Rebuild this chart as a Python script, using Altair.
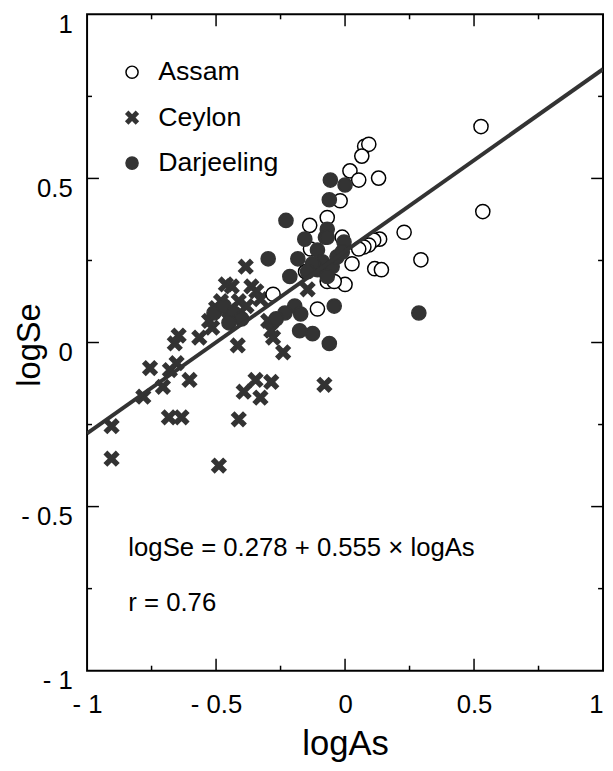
import altair as alt
import pandas as pd

# ---- data ----
ceylon_x = [-0.905, -0.905, -0.782, -0.756, -0.706, -0.683, -0.634, -0.679, -0.653, -0.660,
            -0.645, -0.603, -0.565, -0.489, -0.500, -0.515, -0.462, -0.439, -0.363, -0.385,
            -0.416, -0.347, -0.286, -0.328, -0.393, -0.412, -0.240, -0.279, -0.298, -0.145,
            -0.080, -0.286, -0.527, -0.481, -0.412, -0.382, -0.344, -0.328, -0.450]
ceylon_y = [-0.255, -0.354, -0.165, -0.078, -0.135, -0.228, -0.228, -0.084, -0.063, -0.003,
            0.021, -0.114, 0.015, -0.375, 0.105, 0.045, 0.177, 0.171, 0.171, 0.231,
            -0.009, -0.114, -0.120, -0.168, -0.150, -0.234, -0.030, 0.015, 0.066, 0.162,
            -0.129, 0.036, 0.066, 0.126, 0.126, 0.111, 0.156, 0.132, 0.096]

assam_x = [0.076, 0.092, 0.065, 0.019, 0.053, 0.130, -0.019, -0.069, -0.137, 0.229,
           0.134, 0.111, 0.092, 0.073, 0.053, 0.115, 0.141, 0.000, 0.027, -0.011,
           -0.069, -0.279, 0.527, 0.534, 0.294, -0.107, -0.153, -0.134, -0.042]
assam_y = [0.598, 0.604, 0.568, 0.523, 0.495, 0.501, 0.432, 0.381, 0.357, 0.336,
           0.315, 0.312, 0.297, 0.291, 0.285, 0.225, 0.222, 0.177, 0.240, 0.321,
           0.186, 0.147, 0.658, 0.399, 0.252, 0.102, 0.216, 0.285, 0.186]

darj_x = [-0.298, -0.156, -0.076, -0.183, -0.214, -0.057, 0.000, -0.061, -0.229, -0.069,
          -0.069, -0.004, -0.107, -0.088, -0.050, -0.031, -0.107, -0.011, -0.069, -0.126,
          -0.195, -0.172, -0.126, -0.176, -0.233, -0.267, -0.061, -0.042, 0.286, -0.508,
          -0.469, -0.431, -0.401, -0.450, -0.145]
darj_y = [0.255, 0.315, 0.321, 0.255, 0.201, 0.495, 0.480, 0.435, 0.372, 0.345,
          0.321, 0.306, 0.282, 0.246, 0.231, 0.261, 0.222, 0.276, 0.201, 0.240,
          0.111, 0.087, 0.027, 0.036, 0.090, 0.072, -0.003, 0.111, 0.090, 0.090,
          0.111, 0.090, 0.072, 0.060, 0.216]

varieties = ["Assam", "Ceylon", "Darjeeling"]
intercept, slope = 0.278, 0.555
line_x = [-1.0, 1.0]

major_ticks = [-0.5, 0.0, 0.5]
minor_ticks = [-0.75, -0.25, 0.25, 0.75]
axis_values = [-1, -0.5, 0, 0.5, 1]

note_text = ["logSe = 0.278 + 0.555 \u00d7 logAs", "r = 0.76"]
note_x = [-0.84, -0.84]
note_y = [-0.627, -0.795]

# ---- tables ----
rows = []
for order, (name, xs_, ys_) in enumerate([("Ceylon", ceylon_x, ceylon_y),
                                          ("Assam", assam_x, assam_y),
                                          ("Darjeeling", darj_x, darj_y)]):
    for a, b in zip(xs_, ys_):
        rows.append({"variety": name, "logAs": a, "logSe": b, "ord": order})
df = pd.DataFrame(rows)
line_df = pd.DataFrame({"lx": line_x, "ly": [intercept + slope * v for v in line_x]})
major_df = pd.DataFrame({"v": major_ticks})
minor_df = pd.DataFrame({"v": minor_ticks})
note_df = pd.DataFrame({"nx": note_x, "ny": note_y, "t": note_text})

W, H = 522, 664
FONT = "Liberation Sans"
INK = "#333333"
xs = alt.Scale(domain=[-1, 1], nice=False, zero=False)
ys = alt.Scale(domain=[-1, 1], nice=False, zero=False)

X_PATH = "M-1,-0.6L-0.6,-1L0,-0.4L0.6,-1L1,-0.6L0.4,0L1,0.6L0.6,1L0,0.4L-0.6,1L-1,0.6L-0.4,0Z"
label_expr = "datum.value < 0 ? '- ' + abs(datum.value) : '' + datum.value"

leg = alt.Legend(title=None, orient="none", legendX=32, legendY=45,
                 labelFont=FONT, labelFontSize=27, labelColor="black",
                 symbolSize=150, symbolStrokeWidth=1.5, rowPadding=18,
                 labelOffset=13, padding=0)

x_axis = alt.Axis(values=axis_values, ticks=False, domain=False, grid=False,
                  labelExpr=label_expr, labelFont=FONT, labelFontSize=26,
                  labelColor="black", labelPadding=21, labelFlush=False,
                  labelAlign={"condition": {"test": "datum.value == 1", "value": "right"},
                              "value": "center"},
                  title="logAs", titleFont=FONT, titleFontSize=35,
                  titleFontWeight="normal", titleColor="black",
                  titleX=W / 2, titleY=85, titleBaseline="alphabetic")
y_axis = alt.Axis(values=axis_values, ticks=False, domain=False, grid=False,
                  labelExpr=label_expr, labelFont=FONT, labelFontSize=26,
                  labelColor="black", labelPadding=15, labelFlush=False,
                  labelOffset=10,
                  title="logSe", titleFont=FONT, titleFontSize=33,
                  titleFontWeight="normal", titleColor="black",
                  titleX=-48, titleY=334, titleBaseline="alphabetic",
                  titleAngle=270, titleAlign="center")

points = alt.Chart(df).mark_point(filled=True, size=205, strokeWidth=1.5, opacity=1).encode(
    x=alt.X("logAs:Q", scale=xs, axis=x_axis),
    y=alt.Y("logSe:Q", scale=ys, axis=y_axis),
    shape=alt.Shape("variety:N", scale=alt.Scale(domain=varieties, range=["circle", X_PATH, "circle"]), legend=leg),
    fill=alt.Fill("variety:N", scale=alt.Scale(domain=varieties, range=["white", INK, INK]), legend=leg),
    stroke=alt.Stroke("variety:N", scale=alt.Scale(domain=varieties, range=["black", INK, INK]), legend=leg),
    order=alt.Order("ord:Q"),
)

reg = alt.Chart(line_df).mark_line(color=INK, strokeWidth=4, clip=True).encode(
    x=alt.X("lx:Q", scale=xs, axis=x_axis),
    y=alt.Y("ly:Q", scale=ys, axis=y_axis),
)

notes = alt.Chart(note_df).mark_text(align="left", baseline="middle", font=FONT,
                                     fontSize=26, color="black").encode(
    x=alt.X("nx:Q", scale=xs, axis=x_axis),
    y=alt.Y("ny:Q", scale=ys, axis=y_axis),
    text="t:N",
)


def tick_layers(data, L):
    left = alt.Chart(data).mark_rule(color="black", strokeWidth=1.5).encode(
        y=alt.Y("v:Q", scale=ys, axis=y_axis), x=alt.value(0), x2=alt.value(L))
    right = alt.Chart(data).mark_rule(color="black", strokeWidth=1.5).encode(
        y=alt.Y("v:Q", scale=ys, axis=y_axis), x=alt.value(W - L), x2=alt.value(W))
    bottom = alt.Chart(data).mark_rule(color="black", strokeWidth=1.5).encode(
        x=alt.X("v:Q", scale=xs, axis=x_axis), y=alt.value(H - L), y2=alt.value(H))
    top = alt.Chart(data).mark_rule(color="black", strokeWidth=1.5).encode(
        x=alt.X("v:Q", scale=xs, axis=x_axis), y=alt.value(0), y2=alt.value(L))
    return [left, right, bottom, top]


chart = alt.layer(
    points, reg, notes, *tick_layers(major_df, 12), *tick_layers(minor_df, 5)
).properties(
    width=W, height=H,
    autosize=alt.AutoSizeParams(type="none"),
    padding={"left": 80, "top": 2, "right": 2, "bottom": 90},
    background="white",
).configure_view(stroke="black", strokeWidth=2)

chart.save("out.html", embed_options={"renderer": "svg", "actions": False})
